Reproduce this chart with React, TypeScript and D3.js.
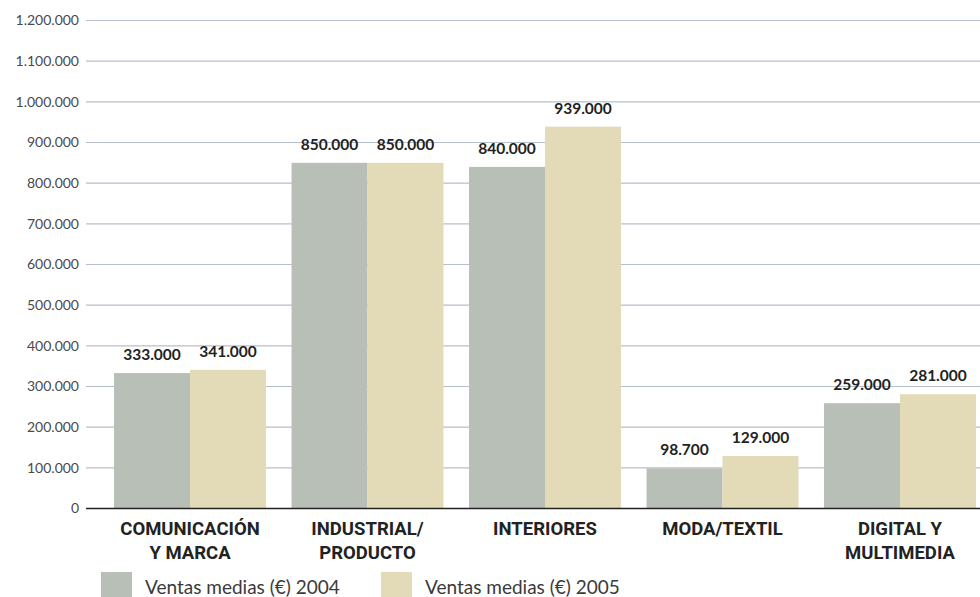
import React from "react";
import * as d3 from "d3";

const categories = [["COMUNICACIÓN", "Y MARCA"], ["INDUSTRIAL/", "PRODUCTO"], ["INTERIORES"], ["MODA/TEXTIL"], ["DIGITAL Y", "MULTIMEDIA"]];
const categoryKeys = ["comunicacion", "industrial", "interiores", "moda", "digital"];
const series2004 = [333000, 850000, 840000, 98700, 259000];
const series2005 = [341000, 850000, 939000, 129000, 281000];
const seriesNames = ["Ventas medias (€) 2004", "Ventas medias (€) 2005"];
const yTicks = [0, 100000, 200000, 300000, 400000, 500000, 600000, 700000, 800000, 900000, 1000000, 1100000, 1200000];

const W = 980;
const H = 597;
const colors = ["#b8bfb7", "#e3dab7"];

const fmt = (v: number) => {
  if (v === 0) return "0";
  const s = Math.round(v).toString();
  return s.replace(/\B(?=(\d{3})+(?!\d))/g, ".");
};

export default function App() {
  const y = d3.scaleLinear().domain([0, 1200000]).range([508.5, 20.5]);
  const x = d3.scaleBand<string>().domain(categoryKeys).range([86, 1004]).paddingInner(0.144).paddingOuter(0.158);
  const inner = d3.scaleBand<number>().domain([0, 1]).range([0, x.bandwidth()]);
  const series = [series2004, series2005];

  return (
    <svg width={W} height={H} style={{ position: "absolute", left: 0, top: 0, background: "#fff" }}>
      {yTicks.map((t) => (
        <g key={t}>
          {t !== 0 && <line x1={86} x2={W} y1={y(t)} y2={y(t)} stroke="#b6bfce" strokeWidth={1.2} />}
          <text x={79} y={y(t)} dy="0.35em" textAnchor="end" fontFamily="Lato, 'Open Sans', sans-serif" fontSize={14} fill="#4a4a4a">
            {fmt(t)}
          </text>
        </g>
      ))}
      {categoryKeys.map((k, i) => (
        <g key={k} transform={`translate(${x(k)},0)`}>
          {series.map((s, j) => (
            <g key={j}>
              <rect x={inner(j)} y={y(s[i])} width={inner.bandwidth()} height={y(0) - y(s[i])} fill={colors[j]} />
              <text x={(inner(j) as number) + inner.bandwidth() / 2} y={y(s[i]) - 13} textAnchor="middle" fontFamily="Lato, 'Open Sans', sans-serif" fontWeight={700} fontSize={15.5} fill="#222">
                {fmt(s[i])}
              </text>
            </g>
          ))}
          {categories[i].map((line, li) => (
            <text key={li} x={x.bandwidth() / 2} y={534.5 + li * 24} textAnchor="middle" fontFamily="Roboto, 'Liberation Sans', sans-serif" fontWeight={700} fontSize={18.5} fill="#222">
              {line}
            </text>
          ))}
        </g>
      ))}
      <line x1={86} x2={W} y1={y(0)} y2={y(0)} stroke="#222" strokeWidth={1.5} />
      {seriesNames.map((n, j) => (
        <g key={n} transform={`translate(${101 + j * 280},572)`}>
          <rect x={0} y={0} width={31} height={26} fill={colors[j]} />
          <text x={44} y={21.5} fontFamily="Lato, 'Open Sans', sans-serif" fontSize={19} fill="#3a3a3a">
            {n}
          </text>
        </g>
      ))}
    </svg>
  );
}
